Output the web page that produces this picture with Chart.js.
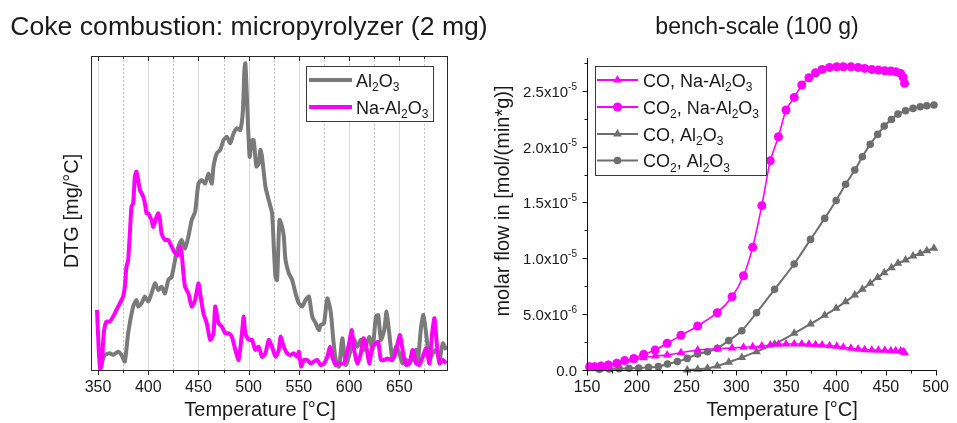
<!DOCTYPE html>
<html>
<head>
<meta charset="utf-8">
<script src="https://cdn.jsdelivr.net/npm/chart.js@4/dist/chart.umd.min.js"></script>
<style>
  html, body { margin: 0; padding: 0; background: #fff; }
  #wrap { position: relative; width: 957px; height: 423px; overflow: hidden; }
  canvas { position: absolute; top: 0; }
  #dtg { left: 0; }
  #flow { left: 480px; }
</style>
</head>
<body>
<div id="wrap">
  <canvas id="dtg" width="500" height="423"></canvas>
  <canvas id="flow" width="477" height="423"></canvas>
</div>
<script>
// ---------- micropyrolyzer DTG (relative units, 0-100) ----------
const dtgTempAl = [353.3,356.7,361.7,365.0,370.0,373.3,376.7,380.0,385.0,388.3,390.0,393.3,396.7,400.0,403.3,406.7,410.0,413.3,416.7,420.0,423.3,426.7,430.0,433.3,436.7,440.0,443.3,446.7,450.0,453.3,456.7,460.0,463.3,465.0,468.3,471.7,475.0,478.3,481.7,485.0,488.3,491.7,494.3,495.7,496.7,497.7,499.0,501.0,503.3,505.0,507.7,510.0,511.7,513.3,516.7,520.0,523.3,525.0,526.7,528.3,530.7,533.3,535.0,536.7,540.0,543.3,546.7,550.0,553.3,556.7,560.0,563.3,566.7,570.0,571.7,575.0,578.3,581.7,584.3,586.7,590.0,593.3,596.7,601.7,605.0,608.3,611.7,615.0,620.0,623.3,626.7,629.0,631.7,635.0,637.3,640.0,643.3,646.7,650.0,653.3,656.7,660.0,663.3,666.7,668.3,671.7,674.0,676.7,680.0,683.3,686.7,690.0,693.3,696.7];
const dtgAl = [1.6,4.8,5.3,4.8,5.8,4.8,2.7,11.7,20.2,22.3,20.2,21.2,23.4,21.8,24.4,27.6,25.5,26.5,24.4,28.7,29.7,35.0,39.3,41.4,38.7,42.5,47.8,50.4,59.4,60.5,59.4,62.6,59.4,64.8,69.0,70.1,73.2,74.3,72.2,75.4,77.0,76.4,82.8,95.5,97.7,91.3,80.7,67.9,73.2,73.2,64.8,65.8,70.1,67.9,58.4,54.1,49.9,39.3,29.7,28.7,47.8,45.6,42.5,35.0,30.8,28.7,24.4,21.2,20.2,22.3,23.4,17.0,14.9,12.7,14.3,14.9,22.8,18.6,9.6,3.2,1.1,10.1,1.6,6.4,9.6,7.4,9.6,6.4,10.6,6.4,17.0,17.5,9.6,12.7,18.6,11.7,3.2,7.4,5.3,2.1,3.2,2.7,3.2,6.4,2.1,13.8,17.5,11.7,3.2,5.3,6.4,3.2,8.5,6.4];
const dtgTempNa = [349.0,350.7,352.3,354.0,355.7,358.3,361.7,365.0,368.3,371.7,375.0,376.7,378.3,380.0,381.7,383.3,385.0,386.7,388.3,390.0,391.7,393.3,395.0,396.7,398.3,400.0,401.7,403.3,405.0,408.3,410.0,411.7,413.3,416.7,420.0,423.3,426.7,430.0,431.7,433.3,435.0,436.7,440.0,443.3,446.7,450.0,451.7,455.0,458.3,461.7,465.0,466.7,470.0,473.3,476.7,480.0,483.3,486.7,490.0,493.3,495.0,496.7,500.0,503.3,506.7,510.0,513.3,516.7,520.0,523.3,526.7,530.0,531.7,535.0,538.3,541.7,545.0,548.3,550.0,552.3,555.0,558.3,561.7,565.0,568.3,571.7,575.0,578.3,581.0,583.3,586.7,590.0,595.0,600.0,602.7,605.0,608.3,611.7,614.3,616.7,620.0,623.3,626.7,629.0,631.7,635.0,638.3,641.7,645.0,648.3,650.7,653.3,656.7,660.0,663.3,666.7,670.0,673.3,676.7,680.0,682.7,685.0,687.3,690.0,693.3,696.7];
const dtgNa = [19.1,6.4,0,3.2,11.7,15.4,15.4,17.0,19.1,21.2,23.4,26.5,32.9,35.0,43.5,52.0,53.1,61.6,63.2,60.5,57.3,56.3,55.2,53.1,49.9,49.9,48.8,47.8,45.6,48.8,49.9,47.8,43.5,41.4,41.4,39.3,37.2,36.6,39.3,37.2,30.8,26.5,24.4,20.2,22.3,27.6,24.4,18.0,14.9,9.6,11.7,20.2,14.9,13.8,11.7,11.7,10.6,6.4,3.2,11.7,17.0,11.7,9.6,9.6,6.4,7.4,4.2,5.3,9.6,7.4,4.2,6.4,10.6,7.4,5.3,4.8,5.3,4.2,5.8,1.1,3.2,3.2,2.1,2.7,3.2,1.6,2.1,4.2,7.4,4.2,1.6,2.1,2.1,8.5,12.7,6.4,2.1,5.3,10.1,8.5,2.1,7.4,8.5,9.0,3.2,3.2,3.7,3.2,4.2,8.5,11.1,6.4,1.6,2.1,6.4,2.1,1.6,4.2,6.9,2.1,11.7,16.5,8.5,2.1,3.2,2.1];

// ---------- bench-scale molar flows (units of 1e-5 mol/(min*g)) ----------
const benchTempNa = [152.6,157.6,164.1,171.4,179.9,187.8,197.0,206.9,218.4,230.5,244.3,261.1,280.8,295.6,307.1,316.3,325.5,334.0,342.2,349.8,358.0,365.6,372.8,379.4,386.0,393.5,400.7,407.3,414.9,422.1,428.7,435.9,442.5,449.0,455.0,459.9,464.8,467.4,468.8];
const coNa  = [0.024,0.030,0.036,0.045,0.060,0.075,0.090,0.110,0.125,0.134,0.155,0.179,0.190,0.197,0.203,0.209,0.215,0.224,0.230,0.233,0.233,0.233,0.230,0.227,0.224,0.218,0.212,0.203,0.194,0.188,0.182,0.179,0.176,0.176,0.173,0.173,0.170,0.164,0.155];
const co2Na = [0.030,0.030,0.036,0.045,0.060,0.084,0.104,0.140,0.179,0.239,0.310,0.394,0.513,0.656,0.844,1.098,1.471,1.874,2.088,2.327,2.440,2.551,2.616,2.661,2.691,2.709,2.715,2.715,2.715,2.709,2.700,2.691,2.685,2.679,2.676,2.670,2.655,2.619,2.566];
const benchTempAl = [162.5,172.3,182.2,192.1,201.9,211.8,221.6,230.8,240.7,250.6,261.1,270.9,280.8,292.3,305.4,320.2,338.3,358.0,374.4,388.6,400.1,409.6,418.8,426.4,434.3,441.8,448.4,455.6,462.2,469.8,477.3,484.5,491.1,498.3];
const coAl  = [null,null,null,null,null,null,null,null,null,0.000,0.006,0.015,0.036,0.069,0.113,0.164,0.233,0.328,0.412,0.489,0.552,0.612,0.671,0.722,0.776,0.829,0.871,0.916,0.955,0.984,1.020,1.044,1.068,1.089];
const co2Al = [0.006,0.009,0.012,0.015,0.018,0.024,0.030,0.054,0.075,0.104,0.143,0.164,0.194,0.263,0.352,0.513,0.722,0.949,1.169,1.357,1.518,1.662,1.790,1.909,2.020,2.109,2.184,2.243,2.291,2.321,2.342,2.357,2.366,2.372];

const FONT = "'Liberation Sans', Arial, Helvetica, sans-serif";
const INK = '#1a1a1a';
const MAGENTA = '#ff00ff';
const GREY_DTG = '#7a7a7a';
const GREY = '#6e6e6e';

const xy = (xs, ys) => xs.map((x, i) => ({ x, y: ys[i] }));
const font = (size) => size + 'px ' + FONT;

// text with subscript / superscript runs: parts = [[text, ''|'sub'|'sup'], ...]
function richText(ctx, parts, x, y, size, align) {
  const small = Math.round(size * 0.68);
  const widths = parts.map(([t, m]) => { ctx.font = font(m ? small : size); return ctx.measureText(t).width; });
  const total = widths.reduce((a, b) => a + b, 0);
  let cx = align === 'right' ? x - total : align === 'center' ? x - total / 2 : x;
  ctx.textAlign = 'left';
  ctx.textBaseline = 'alphabetic';
  parts.forEach(([t, m], i) => {
    ctx.font = font(m ? small : size);
    const dy = m === 'sub' ? size * 0.27 : m === 'sup' ? -size * 0.42 : 0;
    ctx.fillText(t, cx, y + dy);
    cx += widths[i];
  });
}

function marker(ctx, style, x, y, r) {
  ctx.beginPath();
  if (style === 'triangle') {
    for (let k = 0; k < 3; k++) {
      const ang = k * 2 * Math.PI / 3;
      const px = x + Math.sin(ang) * r, py = y - Math.cos(ang) * r;
      k ? ctx.lineTo(px, py) : ctx.moveTo(px, py);
    }
    ctx.closePath();
  } else {
    ctx.arc(x, y, r, 0, Math.PI * 2);
  }
  ctx.fill();
}

function rotatedText(ctx, text, x, y, size) {
  ctx.save();
  ctx.translate(x, y);
  ctx.rotate(-Math.PI / 2);
  ctx.font = font(size);
  ctx.textAlign = 'center';
  ctx.textBaseline = 'middle';
  ctx.fillText(text, 0, 0);
  ctx.restore();
}

const AL2O3 = [['Al', ''], ['2', 'sub'], ['O', ''], ['3', 'sub']];

// ---------- left panel decorations ----------
const dtgDecor = {
  id: 'dtgDecor',
  beforeDatasetsDraw(chart) {
    const { ctx, chartArea: a, scales: { x } } = chart;
    ctx.save();
    ctx.lineWidth = 1;
    x.ticks.forEach(t => {
      const px = Math.round(x.getPixelForValue(t.value)) + 0.5;
      const major = t.value % 50 === 0;
      ctx.strokeStyle = major ? '#dadada' : '#c4c4c4';
      ctx.setLineDash(major ? [] : [2, 2]);
      ctx.beginPath();
      ctx.moveTo(px, a.top);
      ctx.lineTo(px, a.bottom);
      ctx.stroke();
    });
    ctx.restore();
  },
  afterDraw(chart) {
    const { ctx, chartArea: a, scales: { x } } = chart;
    ctx.save();
    ctx.strokeStyle = '#2a2a2a';
    ctx.lineWidth = 1;
    ctx.strokeRect(Math.round(a.left) + 0.5, Math.round(a.top) + 0.5,
                   Math.round(a.right - a.left), Math.round(a.bottom - a.top));
    x.ticks.forEach(t => {
      const px = Math.round(x.getPixelForValue(t.value)) + 0.5;
      const len = t.value % 50 === 0 ? 5 : 3;
      ctx.beginPath();
      ctx.moveTo(px, a.bottom); ctx.lineTo(px, a.bottom + len);
      ctx.moveTo(px, a.top); ctx.lineTo(px, a.top + len);
      ctx.stroke();
    });

    // legend
    ctx.fillStyle = '#fff';
    ctx.fillRect(307, 67, 127, 55);
    ctx.strokeStyle = '#3a3a3a';
    ctx.strokeRect(306.5, 66.5, 127, 55);
    const rows = [
      { parts: AL2O3, color: GREY_DTG, y: 80 },
      { parts: [['Na-Al', ''], ['2', 'sub'], ['O', ''], ['3', 'sub']], color: MAGENTA, y: 107 }
    ];
    rows.forEach(r => {
      ctx.strokeStyle = r.color;
      ctx.lineWidth = 4;
      ctx.beginPath(); ctx.moveTo(309, r.y); ctx.lineTo(352, r.y); ctx.stroke();
      ctx.fillStyle = INK;
      richText(ctx, r.parts, 356, r.y + 6.5, 18, 'left');
    });

    // titles
    ctx.fillStyle = INK;
    ctx.font = font(26.6);
    ctx.textAlign = 'center';
    ctx.textBaseline = 'alphabetic';
    ctx.fillText('Coke combustion: micropyrolyzer (2 mg)', 249, 35);
    ctx.font = font(20);
    ctx.fillText('Temperature [°C]', 260, 416);
    rotatedText(ctx, 'DTG [mg/°C]', 72, 211, 20);
    ctx.restore();
  }
};

new Chart(document.getElementById('dtg'), {
  type: 'line',
  data: {
    datasets: [
      { label: 'Na-Al2O3', data: xy(dtgTempNa, dtgNa), borderColor: MAGENTA, borderWidth: 4,
        pointRadius: 0, tension: 0.2, order: 0, borderJoinStyle: 'round' },
      { label: 'Al2O3', data: xy(dtgTempAl, dtgAl), borderColor: GREY_DTG, borderWidth: 4,
        pointRadius: 0, tension: 0.2, order: 1, borderJoinStyle: 'round' }
    ]
  },
  options: {
    responsive: false,
    animation: false,
    devicePixelRatio: 1,
    layout: { padding: { left: 91, right: 53, top: 56, bottom: 0 } },
    plugins: { legend: { display: false }, tooltip: { enabled: false } },
    scales: {
      x: {
        type: 'linear', min: 343, max: 697.5,
        afterFit(s) { s.height = 53; },
        grid: { display: false, drawTicks: false },
        border: { display: false },
        ticks: {
          stepSize: 25, includeBounds: false, maxTicksLimit: 100, autoSkip: false, maxRotation: 0,
          padding: 8, color: INK, font: { family: FONT, size: 16 },
          callback: v => (v % 50 === 0 ? String(v) : '')
        }
      },
      y: { type: 'linear', min: 0, max: 100, display: false }
    }
  },
  plugins: [dtgDecor]
});

// ---------- right panel decorations ----------
function expLabel(v) {
  if (v === 0) return [['0.0', '']];
  const e = Math.floor(Math.log10(v) + 1e-9);
  const mant = v / Math.pow(10, e);
  return [[mant.toFixed(1) + 'x10', ''], [String(e - 5), 'sup']];
}

const flowDecor = {
  id: 'flowDecor',
  afterDraw(chart) {
    const { ctx, chartArea: a, scales: { x, y } } = chart;
    ctx.save();
    ctx.strokeStyle = '#111';
    ctx.lineWidth = 1;
    const L = Math.round(a.left) + 0.5, B = Math.round(a.bottom) + 0.5;
    ctx.beginPath();
    ctx.moveTo(L, Math.round(a.top)); ctx.lineTo(L, B);
    ctx.lineTo(Math.round(a.right) + 1, B);
    ctx.stroke();
    x.ticks.forEach(t => {
      const px = Math.round(x.getPixelForValue(t.value)) + 0.5;
      const len = t.value % 50 === 0 ? 5 : 3;
      ctx.beginPath(); ctx.moveTo(px, B); ctx.lineTo(px, B + len); ctx.stroke();
    });
    ctx.fillStyle = INK;
    y.ticks.forEach(t => {
      const py = Math.round(y.getPixelForValue(t.value)) + 0.5;
      const major = Math.round(t.value * 100) % 50 === 0;
      ctx.beginPath(); ctx.moveTo(L, py); ctx.lineTo(L - (major ? 5 : 3), py); ctx.stroke();
      if (major) richText(ctx, expLabel(t.value), 97, py + 5, 15, 'right');
    });

    // legend
    ctx.fillStyle = '#fff';
    ctx.fillRect(115, 67, 171, 109);
    ctx.strokeStyle = '#3a3a3a';
    ctx.strokeRect(115.5, 66.5, 171, 109);
    const rows = [
      { parts: [['CO, Na-Al', ''], ['2', 'sub'], ['O', ''], ['3', 'sub']], color: MAGENTA, style: 'triangle', r: 5, y: 80 },
      { parts: [['CO', ''], ['2', 'sub'], [', Na-Al', ''], ['2', 'sub'], ['O', ''], ['3', 'sub']], color: MAGENTA, style: 'circle', r: 4.5, y: 107 },
      { parts: [['CO, ', '']].concat(AL2O3), color: GREY, style: 'triangle', r: 5, y: 134 },
      { parts: [['CO', ''], ['2', 'sub'], [', ', '']].concat(AL2O3), color: GREY, style: 'circle', r: 3.8, y: 160.5 }
    ];
    rows.forEach(r => {
      ctx.strokeStyle = r.color;
      ctx.fillStyle = r.color;
      ctx.lineWidth = 2;
      ctx.beginPath(); ctx.moveTo(117, r.y); ctx.lineTo(158, r.y); ctx.stroke();
      marker(ctx, r.style, 137.5, r.y, r.r);
      ctx.fillStyle = INK;
      richText(ctx, r.parts, 163, r.y + 6.5, 18, 'left');
    });

    // titles
    ctx.fillStyle = INK;
    ctx.font = font(23);
    ctx.textAlign = 'center';
    ctx.textBaseline = 'alphabetic';
    ctx.fillText('bench-scale (100 g)', 277, 34);
    ctx.font = font(20);
    ctx.fillText('Temperature [°C]', 302, 416);
    rotatedText(ctx, 'molar flow in [mol/(min*g)]', 23, 201, 20);
    ctx.restore();
  }
};

const seriesStyle = (color, style, r, w) => ({
  borderColor: color, backgroundColor: color, pointBackgroundColor: color, pointBorderColor: color,
  borderWidth: w, pointStyle: style, pointRadius: r, pointBorderWidth: 0, tension: 0.25, clip: false
});

new Chart(document.getElementById('flow'), {
  type: 'line',
  data: {
    datasets: [
      Object.assign({ label: 'CO2, Na-Al2O3', data: xy(benchTempNa, co2Na), order: 0 }, seriesStyle(MAGENTA, 'circle', 4.5, 1.6)),
      Object.assign({ label: 'CO, Na-Al2O3', data: xy(benchTempNa, coNa), order: 1 }, seriesStyle(MAGENTA, 'triangle', 5, 1.6)),
      Object.assign({ label: 'CO2, Al2O3', data: xy(benchTempAl, co2Al), order: 2 }, seriesStyle(GREY, 'circle', 3.8, 2)),
      Object.assign({ label: 'CO, Al2O3', data: xy(benchTempAl, coAl), order: 3 }, seriesStyle(GREY, 'triangle', 5, 2))
    ]
  },
  options: {
    responsive: false,
    animation: false,
    devicePixelRatio: 1,
    layout: { padding: { left: 107, right: 15, top: 58, bottom: 0 } },
    plugins: { legend: { display: false }, tooltip: { enabled: false } },
    scales: {
      x: {
        type: 'linear', min: 150, max: 500,
        afterFit(s) { s.height = 53; },
        grid: { display: false, drawTicks: false },
        border: { display: false },
        ticks: {
          stepSize: 25, maxTicksLimit: 100, autoSkip: false, maxRotation: 0,
          padding: 8, color: INK, font: { family: FONT, size: 16 },
          callback: v => (v % 50 === 0 ? String(v) : '')
        }
      },
      y: {
        type: 'linear', min: 0, max: 2.793, display: false,
        ticks: { stepSize: 0.25, includeBounds: false, maxTicksLimit: 100 }
      }
    }
  },
  plugins: [flowDecor]
});
</script>
</body>
</html>
